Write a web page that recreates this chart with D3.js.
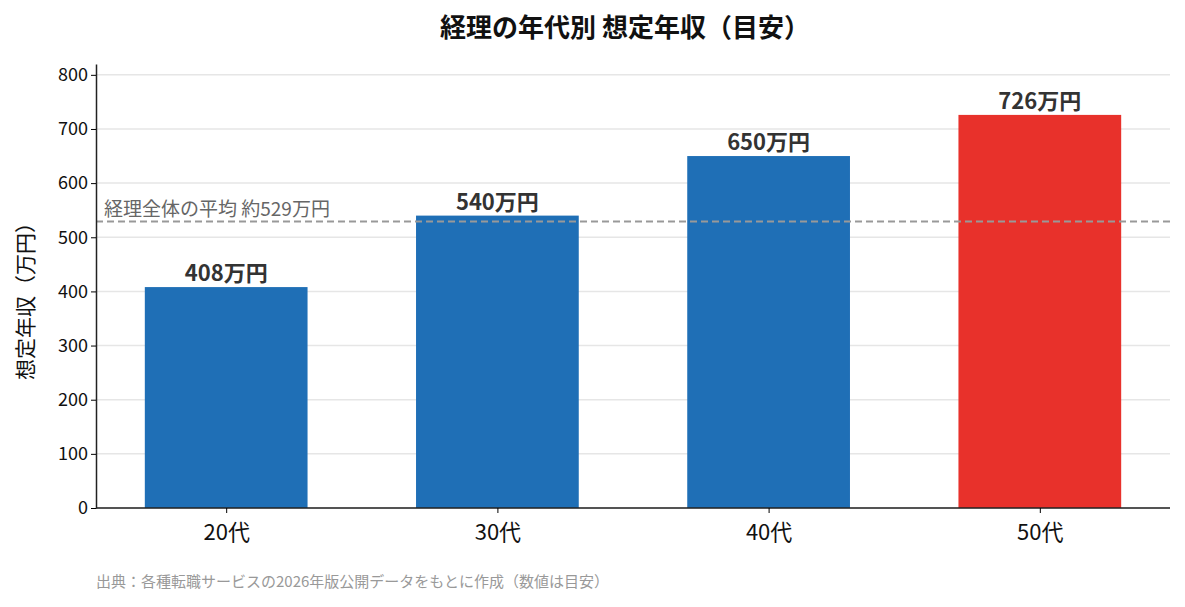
<!DOCTYPE html><html><head><meta charset="utf-8">
<script src="https://cdn.jsdelivr.net/npm/d3@7"></script>
<style>body{margin:0;background:#fff}text{font-family:"Noto Sans CJK JP","Noto Sans",sans-serif}</style></head><body>
<svg id="c" width="1185" height="607"></svg>
<script>
const categories=["20代","30代","40代","50代"];
const values=[408,540,650,726];
const yTicks=[0,100,200,300,400,500,600,700,800];
const average=529;
const svg=d3.select("#c");
const L=96,R=1170,T=64,B=508;
const x=d3.scalePoint().domain(categories).range([L,R]).padding(0.48);
const bw=x.step()*0.6;
const y=d3.scaleLinear().domain([0,820]).range([B,T]);
svg.append("text").attr("x",625).attr("y",37).attr("text-anchor","middle").attr("font-size",26).attr("font-weight","bold").attr("fill","#111").text("経理の年代別 想定年収（目安）");
svg.append("g").selectAll("line").data(yTicks).join("line").attr("x1",L).attr("x2",R).attr("y1",d=>y(d)).attr("y2",d=>y(d)).attr("stroke","#e6e6e6").attr("stroke-width",1.5);
svg.append("g").selectAll("rect").data(values).join("rect").attr("x",(d,i)=>x(categories[i])-bw/2).attr("width",bw).attr("y",d=>y(d)).attr("height",d=>B-y(d)).attr("fill",(d,i)=>i===3?"#e8312b":"#1f6fb6");
svg.append("line").attr("x1",L).attr("x2",R).attr("y1",y(average)).attr("y2",y(average)).attr("stroke","#999").attr("stroke-width",2).attr("stroke-dasharray","7,4");
svg.append("text").attr("x",104).attr("y",y(average)-6).attr("font-size",19).attr("fill","#666").text(`経理全体の平均 約${average}万円`);
svg.append("g").selectAll("text").data(values).join("text").attr("x",(d,i)=>x(categories[i])).attr("y",d=>y(d)-6).attr("text-anchor","middle").attr("font-size",22).attr("font-weight","bold").attr("fill","#333").text(d=>d+"万円");
const ya=svg.append("g").attr("transform",`translate(${L},0)`).call(d3.axisLeft(y).tickValues(yTicks).tickSize(5).tickSizeOuter(0));
ya.selectAll("text").attr("font-size",18).attr("fill","#111").attr("font-family","'Noto Sans CJK JP'");
ya.select(".domain").attr("stroke","#222").attr("stroke-width",1.5);
const xa=svg.append("g").attr("transform",`translate(0,${B})`).call(d3.axisBottom(x).tickSize(5).tickSizeOuter(0));
xa.selectAll("text").attr("font-size",22).attr("fill","#111").attr("dy","1.1em").attr("font-family","'Noto Sans CJK JP'");
xa.select(".domain").attr("stroke","#222").attr("stroke-width",1.5).attr("d",`M${L},0H${R}`);
svg.append("text").attr("transform",`translate(33,${(T+B)/2+10}) rotate(-90)`).attr("text-anchor","middle").attr("font-size",21).attr("fill","#111").text("想定年収（万円）");
svg.append("text").attr("x",96).attr("y",587).attr("font-size",15).attr("fill","#999").text("出典：各種転職サービスの2026年版公開データをもとに作成（数値は目安）");
</script></body></html>
